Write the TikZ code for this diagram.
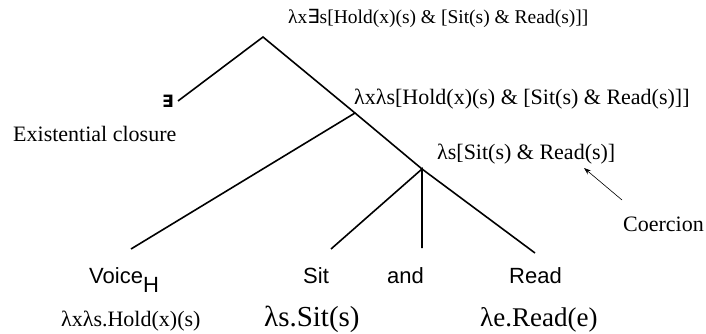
\documentclass[tikz,border=0pt]{standalone}
\usepackage{fontspec}
\setmainfont{Liberation Serif}
\setsansfont{Liberation Sans}
\newfontfamily\symfont{DejaVu Sans}
\usetikzlibrary{arrows.meta}
\begin{document}
\begin{tikzpicture}[x=1pt,y=-1pt,
  branch/.style={line width=1.6pt},
  sem/.style={font=\fontsize{22}{24}\selectfont, inner sep=0pt},
  cat/.style={font=\sffamily\fontsize{22}{24}\selectfont, inner sep=0pt}]
\useasboundingbox (0,0) rectangle (706,334);
% tree points
\coordinate (root) at (263,37);
\coordinate (n2) at (355,113);
\coordinate (n3) at (422,169);
\coordinate (exEnd) at (178,101);
\coordinate (vEnd) at (131,249);
\coordinate (sEnd) at (331,249);
\coordinate (aEnd) at (422,248);
\coordinate (rEnd) at (535,253);
% labels
\node[sem, anchor=base west, font=\fontsize{19.5}{22}\selectfont] (lroot) at (288,24) {λx{\symfont ∃}s[Hold(x)(s) \& [Sit(s) \& Read(s)]]};
\node[sem, anchor=base west] (ln2) at (354,105) {λxλs[Hold(x)(s) \& [Sit(s) \& Read(s)]]};
\node[sem, anchor=base west] (ln3) at (437,159) {λs[Sit(s) \& Read(s)]};
\node[font=\symfont\bfseries\fontsize{17}{18}\selectfont, inner sep=0pt] (ex) at (168,101) {∃};
\node[sem, anchor=base west] (excl) at (13,141) {Existential closure};
\node[sem, anchor=base west] (coer) at (623,231) {Coercion};
\coordinate (coerTail) at (622,200);
\coordinate (coerHead) at (584,168);
\node[cat, anchor=base west] (voice) at (89,283) {Voice\raisebox{-9pt}{H}};
\node[cat, anchor=base west] (sit) at (303,283) {Sit};
\node[cat, anchor=base west] (and) at (387,283) {and};
\node[cat, anchor=base west] (read) at (509,283) {Read};
\node[sem, anchor=base west] (semv) at (61,326) {λxλs.Hold(x)(s)};
\node[sem, anchor=base west, font=\fontsize{29}{30}\selectfont] (sems) at (264,326) {λs.Sit(s)};
\node[sem, anchor=base west, font=\fontsize{27}{28}\selectfont] (semr) at (480,326) {λe.Read(e)};
% branches
\draw[branch] (exEnd) -- (root) -- (n2);
\draw[branch] (vEnd) -- (n2) -- (n3) -- (rEnd);
\draw[branch] (sEnd) -- (n3) -- (aEnd);
\draw[-{Stealth[length=7pt,width=5pt]}, line width=0.6pt] (coerTail) -- (coerHead);
\end{tikzpicture}
\end{document}
